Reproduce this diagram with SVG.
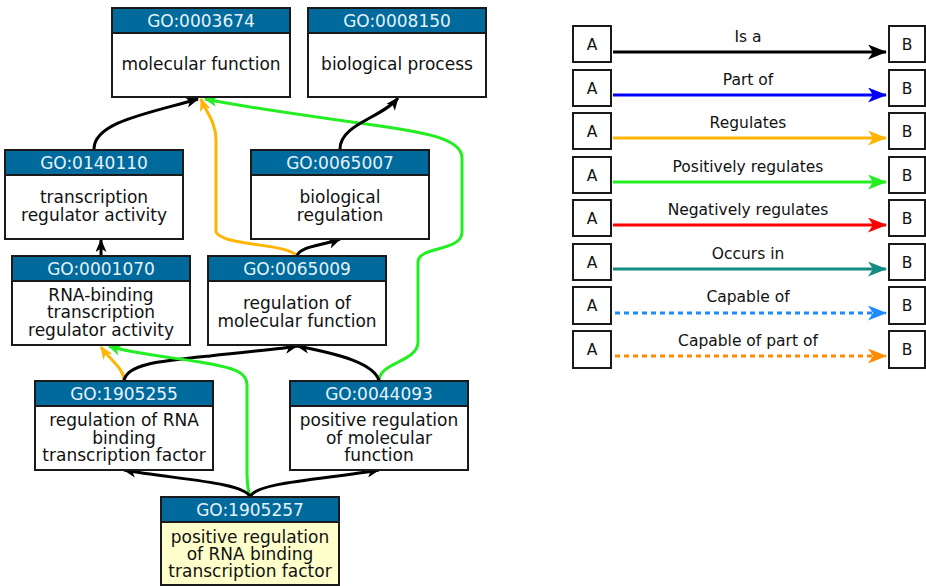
<svg xmlns="http://www.w3.org/2000/svg" width="926" height="586" viewBox="0 0 926 586">
<style>
.box{fill:#ffffff;stroke:#1a1a1a;stroke-width:2}
.hdr{fill:#006a9c;stroke:#1a1a1a;stroke-width:2}
.ht{font-family:"DejaVu Sans",sans-serif;font-size:17px;fill:#e6f2f8;text-anchor:middle}
.bt{font-family:"DejaVu Sans",sans-serif;font-size:17px;fill:#111111;text-anchor:middle}
.lt{font-family:"DejaVu Sans",sans-serif;font-size:15.5px;fill:#111111;text-anchor:middle}
.e{fill:none;stroke-width:3}
.k{stroke:#000000}
.o{stroke:#ffb400}
.g{stroke:#22ee22}
.lb{fill:#ffffff;stroke:#1a1a1a;stroke-width:2}
</style>
<defs>
<marker id="ak" markerUnits="userSpaceOnUse" markerWidth="13" markerHeight="11" refX="12" refY="5.5" orient="auto"><path d="M0,0 L13,5.5 L0,11 L3.5,5.5 z" fill="#000000"/></marker>
<marker id="ao" markerUnits="userSpaceOnUse" markerWidth="13" markerHeight="11" refX="12" refY="5.5" orient="auto"><path d="M0,0 L13,5.5 L0,11 L3.5,5.5 z" fill="#ffb400"/></marker>
<marker id="ag" markerUnits="userSpaceOnUse" markerWidth="13" markerHeight="11" refX="12" refY="5.5" orient="auto"><path d="M0,0 L13,5.5 L0,11 L3.5,5.5 z" fill="#22ee22"/></marker>
<marker id="L1" markerUnits="userSpaceOnUse" markerWidth="19" markerHeight="15" refX="18" refY="7.5" orient="auto"><path d="M0,0 L19,7.5 L0,15 L5,7.5 z" fill="#000000"/></marker>
<marker id="L2" markerUnits="userSpaceOnUse" markerWidth="19" markerHeight="15" refX="18" refY="7.5" orient="auto"><path d="M0,0 L19,7.5 L0,15 L5,7.5 z" fill="#0000ff"/></marker>
<marker id="L3" markerUnits="userSpaceOnUse" markerWidth="19" markerHeight="15" refX="18" refY="7.5" orient="auto"><path d="M0,0 L19,7.5 L0,15 L5,7.5 z" fill="#ffb400"/></marker>
<marker id="L4" markerUnits="userSpaceOnUse" markerWidth="19" markerHeight="15" refX="18" refY="7.5" orient="auto"><path d="M0,0 L19,7.5 L0,15 L5,7.5 z" fill="#22ee22"/></marker>
<marker id="L5" markerUnits="userSpaceOnUse" markerWidth="19" markerHeight="15" refX="18" refY="7.5" orient="auto"><path d="M0,0 L19,7.5 L0,15 L5,7.5 z" fill="#ff0000"/></marker>
<marker id="L6" markerUnits="userSpaceOnUse" markerWidth="19" markerHeight="15" refX="18" refY="7.5" orient="auto"><path d="M0,0 L19,7.5 L0,15 L5,7.5 z" fill="#158a80"/></marker>
<marker id="L7" markerUnits="userSpaceOnUse" markerWidth="19" markerHeight="15" refX="18" refY="7.5" orient="auto"><path d="M0,0 L19,7.5 L0,15 L5,7.5 z" fill="#1e8cff"/></marker>
<marker id="L8" markerUnits="userSpaceOnUse" markerWidth="19" markerHeight="15" refX="18" refY="7.5" orient="auto"><path d="M0,0 L19,7.5 L0,15 L5,7.5 z" fill="#ff8c00"/></marker>
</defs>

<g id="connectors">
<path class="e k" d="M94,149 C94,122 150,113 198,99" marker-end="url(#ak)"/>
<path class="e o" d="M297,256 C287,243 222,246 216,232 L216,140 C216,122 206,112 201,99" marker-end="url(#ao)"/>
<path class="e g" d="M379,381 C379,362 418,362 418,342 L418,262 C418,246 462,252 462,232 L462,158 C462,140 430,133 380,126 C300,115 240,106 205,99" marker-end="url(#ag)"/>
<path class="e k" d="M297,256 C300,246 322,246 340,239" marker-end="url(#ak)"/>
<path class="e k" d="M340,149 C340,124 382,118 398,98" marker-end="url(#ak)"/>
<path class="e k" d="M101,256 L101,240" marker-end="url(#ak)"/>
<path class="e o" d="M124,381 C124,368 110,360 101,347" marker-end="url(#ao)"/>
<path class="e k" d="M124,381 C126,364 160,361 210,356 C252,351 282,349 297,346" marker-end="url(#ak)"/>
<path class="e k" d="M379,381 C375,364 340,354 297,346" marker-end="url(#ak)"/>
<path class="e g" d="M250,497 C248,490 247,485 247,475 L247,385 C247,372 235,368 200,362 C160,356 125,352 109,346" marker-end="url(#ag)"/>
<path class="e k" d="M250,497 C245,482 172,479 124,470" marker-end="url(#ak)"/>
<path class="e k" d="M250,497 C255,482 328,479 379,470" marker-end="url(#ak)"/>
</g>

<g id="GO_0003674">
<rect class="box" x="112" y="8" width="178" height="89"/>
<rect class="hdr" x="112" y="8" width="178" height="25"/>
<text class="ht" x="201" y="27">GO:0003674</text>
<text class="bt" x="201" y="70">molecular function</text>
</g>
<g id="GO_0008150">
<rect class="box" x="308" y="8" width="178" height="89"/>
<rect class="hdr" x="308" y="8" width="178" height="25"/>
<text class="ht" x="397" y="27">GO:0008150</text>
<text class="bt" x="397" y="70">biological process</text>
</g>
<g id="GO_0140110">
<rect class="box" x="5" y="150" width="178" height="89"/>
<rect class="hdr" x="5" y="150" width="178" height="25"/>
<text class="ht" x="94" y="169">GO:0140110</text>
<text class="bt" x="94" y="203">transcription</text>
<text class="bt" x="94" y="221">regulator activity</text>
</g>
<g id="GO_0065007">
<rect class="box" x="251" y="150" width="178" height="89"/>
<rect class="hdr" x="251" y="150" width="178" height="25"/>
<text class="ht" x="340" y="169">GO:0065007</text>
<text class="bt" x="340" y="203">biological</text>
<text class="bt" x="340" y="221">regulation</text>
</g>
<g id="GO_0001070">
<rect class="box" x="12" y="256" width="178" height="89"/>
<rect class="hdr" x="12" y="256" width="178" height="25"/>
<text class="ht" x="101" y="275">GO:0001070</text>
<text class="bt" x="101" y="301">RNA-binding</text>
<text class="bt" x="101" y="318">transcription</text>
<text class="bt" x="101" y="336">regulator activity</text>
</g>
<g id="GO_0065009">
<rect class="box" x="208" y="256" width="178" height="89"/>
<rect class="hdr" x="208" y="256" width="178" height="25"/>
<text class="ht" x="297" y="275">GO:0065009</text>
<text class="bt" x="297" y="309">regulation of</text>
<text class="bt" x="297" y="327">molecular function</text>
</g>
<g id="GO_1905255">
<rect class="box" x="35" y="381" width="178" height="89"/>
<rect class="hdr" x="35" y="381" width="178" height="25"/>
<text class="ht" x="124" y="400">GO:1905255</text>
<text class="bt" x="124" y="426">regulation of RNA</text>
<text class="bt" x="124" y="444">binding</text>
<text class="bt" x="124" y="461">transcription factor</text>
</g>
<g id="GO_0044093">
<rect class="box" x="290" y="381" width="178" height="89"/>
<rect class="hdr" x="290" y="381" width="178" height="25"/>
<text class="ht" x="379" y="400">GO:0044093</text>
<text class="bt" x="379" y="426">positive regulation</text>
<text class="bt" x="379" y="444">of molecular</text>
<text class="bt" x="379" y="461">function</text>
</g>
<g id="GO_1905257">
<rect class="box" x="161" y="497" width="178" height="88" style="fill:#ffffcc"/>
<rect class="hdr" x="161" y="497" width="178" height="25"/>
<text class="ht" x="250" y="516">GO:1905257</text>
<text class="bt" x="250" y="543">positive regulation</text>
<text class="bt" x="250" y="560">of RNA binding</text>
<text class="bt" x="250" y="577">transcription factor</text>
</g>

<g id="legend">
<g id="leg_is_a">
<rect class="lb" x="573" y="26" width="38" height="36"/><text class="lt" x="592" y="50">A</text>
<rect class="lb" x="889" y="26" width="36" height="36"/><text class="lt" x="907" y="50">B</text>
<text class="lt" x="748" y="42">Is a</text>
<line x1="613" y1="52" x2="886" y2="52" stroke="#000000" stroke-width="3" marker-end="url(#L1)"/>
</g>
<g id="leg_part_of">
<rect class="lb" x="573" y="70" width="38" height="36"/><text class="lt" x="592" y="94">A</text>
<rect class="lb" x="889" y="70" width="36" height="36"/><text class="lt" x="907" y="94">B</text>
<text class="lt" x="748" y="85">Part of</text>
<line x1="613" y1="95" x2="886" y2="95" stroke="#0000ff" stroke-width="3" marker-end="url(#L2)"/>
</g>
<g id="leg_regulates">
<rect class="lb" x="573" y="113" width="38" height="36"/><text class="lt" x="592" y="137">A</text>
<rect class="lb" x="889" y="113" width="36" height="36"/><text class="lt" x="907" y="137">B</text>
<text class="lt" x="748" y="128">Regulates</text>
<line x1="613" y1="138" x2="886" y2="138" stroke="#ffb400" stroke-width="3" marker-end="url(#L3)"/>
</g>
<g id="leg_pos">
<rect class="lb" x="573" y="157" width="38" height="36"/><text class="lt" x="592" y="181">A</text>
<rect class="lb" x="889" y="157" width="36" height="36"/><text class="lt" x="907" y="181">B</text>
<text class="lt" x="748" y="172">Positively regulates</text>
<line x1="613" y1="182" x2="886" y2="182" stroke="#22ee22" stroke-width="3" marker-end="url(#L4)"/>
</g>
<g id="leg_neg">
<rect class="lb" x="573" y="200" width="38" height="36"/><text class="lt" x="592" y="224">A</text>
<rect class="lb" x="889" y="200" width="36" height="36"/><text class="lt" x="907" y="224">B</text>
<text class="lt" x="748" y="215">Negatively regulates</text>
<line x1="613" y1="225" x2="886" y2="225" stroke="#ff0000" stroke-width="3" marker-end="url(#L5)"/>
</g>
<g id="leg_occurs">
<rect class="lb" x="573" y="244" width="38" height="36"/><text class="lt" x="592" y="268">A</text>
<rect class="lb" x="889" y="244" width="36" height="36"/><text class="lt" x="907" y="268">B</text>
<text class="lt" x="748" y="259">Occurs in</text>
<line x1="613" y1="269" x2="886" y2="269" stroke="#158a80" stroke-width="3" marker-end="url(#L6)"/>
</g>
<g id="leg_capable">
<rect class="lb" x="573" y="287" width="38" height="37"/><text class="lt" x="592" y="311">A</text>
<rect class="lb" x="889" y="287" width="36" height="37"/><text class="lt" x="907" y="311">B</text>
<text class="lt" x="748" y="302">Capable of</text>
<line x1="615" y1="313" x2="886" y2="313" stroke="#1e8cff" stroke-width="3" stroke-dasharray="5 4" marker-end="url(#L7)"/>
</g>
<g id="leg_capable_part">
<rect class="lb" x="573" y="331" width="38" height="37"/><text class="lt" x="592" y="355">A</text>
<rect class="lb" x="889" y="331" width="36" height="37"/><text class="lt" x="907" y="355">B</text>
<text class="lt" x="748" y="346">Capable of part of</text>
<line x1="615" y1="356" x2="886" y2="356" stroke="#ff8c00" stroke-width="3" stroke-dasharray="5 4" marker-end="url(#L8)"/>
</g>
</g>
</svg>
